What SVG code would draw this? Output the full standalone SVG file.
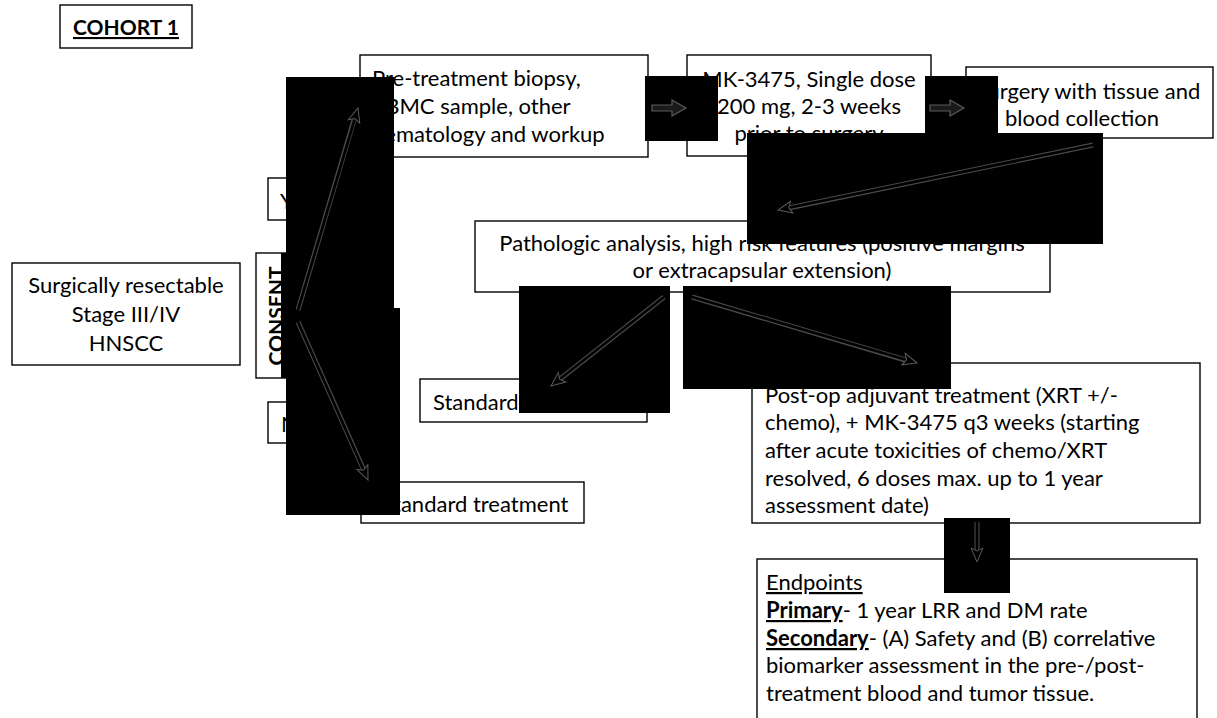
<svg xmlns="http://www.w3.org/2000/svg" width="1217" height="718" viewBox="0 0 1217 718">
<style>
.box{fill:#fff;stroke:#000;stroke-width:1.4}
.t{font-family:Lato,"Open Sans","Liberation Sans",sans-serif;font-size:22px;fill:#000}
.h{font-size:21px}
.m{text-anchor:middle}
.b{font-weight:bold}
.u{text-decoration:underline}
.blk{fill:#000}
.edge{stroke:#4a4a4a;stroke-width:5;fill:none}
.core{stroke:#000;stroke-width:2.8;fill:none}
</style>
<defs>
<marker id="ah" markerUnits="userSpaceOnUse" markerWidth="20" markerHeight="20" refX="15" refY="8" orient="auto">
<path d="M1,2 L15,8 L1,14 L4,8 Z" fill="#000" stroke="#5a5a5a" stroke-width="1"/>
</marker>
</defs>
<rect width="1217" height="718" fill="#fff"/>

<g id="cohort">
<rect class="box" x="60" y="5" width="132" height="43"/>
<text class="t h m b u" x="126" y="35">COHORT 1</text>
</g>
<g id="pretreatment">
<rect class="box" x="360" y="55" width="288" height="102"/>
<text class="t" x="372" y="86">Pre-treatment biopsy,</text>
<text class="t" x="372" y="114">PBMC sample, other</text>
<text class="t" x="372" y="142">hematology and workup</text>
</g>
<g id="mk3475">
<rect class="box" x="687" y="55" width="244" height="101"/>
<text class="t m" x="809" y="87">MK-3475, Single dose</text>
<text class="t m" x="809" y="114">200 mg, 2-3 weeks</text>
<text class="t m" x="809" y="141">prior to surgery</text>
</g>
<g id="surgery">
<rect class="box" x="966" y="67" width="247" height="71"/>
<text class="t m" x="1088" y="99">Surgery with tissue and</text>
<text class="t m" x="1082" y="126">blood collection</text>
</g>
<g id="yes">
<rect class="box" x="268" y="178" width="62" height="42"/>
<text class="t" x="280" y="209">YES</text>
</g>
<g id="consent">
<rect class="box" x="256" y="253" width="44" height="125"/>
<text class="t h m b" transform="translate(284,316) rotate(-90)">CONSENT</text>
</g>
<g id="population">
<rect class="box" x="12" y="263" width="228" height="102"/>
<text class="t m" x="126" y="293">Surgically resectable</text>
<text class="t m" x="126" y="322">Stage III/IV</text>
<text class="t m" x="126" y="351">HNSCC</text>
</g>
<g id="no">
<rect class="box" x="268" y="402" width="62" height="41"/>
<text class="t" x="281" y="432">NO</text>
</g>
<g id="standard-no">
<rect class="box" x="361" y="482" width="223" height="41"/>
<text class="t m" x="475" y="512">Standard treatment</text>
</g>
<g id="pathologic">
<rect class="box" x="475" y="221" width="575" height="71"/>
<text class="t m" x="762" y="251">Pathologic analysis, high risk features (positive margins</text>
<text class="t m" x="762" y="278">or extracapsular extension)</text>
</g>
<g id="standard-low">
<rect class="box" x="420" y="379" width="227" height="43"/>
<text class="t" x="433" y="410">Standard treatment</text>
</g>
<g id="postop">
<rect class="box" x="752" y="363" width="448" height="160"/>
<text class="t" x="765" y="403">Post-op adjuvant treatment (XRT +/-</text>
<text class="t" x="765" y="430">chemo), + MK-3475 q3 weeks (starting</text>
<text class="t" x="765" y="458">after acute toxicities of chemo/XRT</text>
<text class="t" x="765" y="486">resolved, 6 doses max. up to 1 year</text>
<text class="t" x="765" y="513">assessment date)</text>
</g>
<g id="endpoints">
<rect class="box" x="757" y="559" width="440" height="175"/>
<text class="t u" x="766" y="590">Endpoints</text>
<text class="t" x="766" y="618"><tspan class="b u">Primary</tspan>- 1 year LRR and DM rate</text>
<text class="t" x="766" y="646"><tspan class="b u">Secondary</tspan>- (A) Safety and (B) correlative</text>
<text class="t" x="766" y="673">biomarker assessment in the pre-/post-</text>
<text class="t" x="766" y="701">treatment blood and tumor tissue.</text>
</g>

<g id="connectors">
<rect class="blk" x="286" y="77" width="108" height="231"/>
<rect class="blk" x="281" y="253" width="20" height="125"/>
<rect class="blk" x="286" y="308" width="114" height="207"/>
<rect class="blk" x="645" y="76" width="73" height="65"/>
<rect class="blk" x="925" y="76" width="73" height="65"/>
<rect class="blk" x="747" y="133" width="356" height="111"/>
<rect class="blk" x="519" y="286" width="151" height="127"/>
<rect class="blk" x="683" y="286" width="268" height="103"/>
<rect class="blk" x="944" y="518" width="66" height="75"/>

<line class="edge" x1="298" y1="310" x2="356" y2="113"/>
<line class="core" x1="298" y1="310" x2="358" y2="108" marker-end="url(#ah)"/>
<line class="edge" x1="298" y1="322" x2="366" y2="475"/>
<line class="core" x1="298" y1="322" x2="368" y2="480" marker-end="url(#ah)"/>
<line class="edge" x1="1093" y1="145" x2="784" y2="209"/>
<line class="core" x1="1093" y1="145" x2="778" y2="210" marker-end="url(#ah)"/>
<line class="edge" x1="664" y1="297" x2="555" y2="383"/>
<line class="core" x1="664" y1="297" x2="551" y2="386" marker-end="url(#ah)"/>
<line class="edge" x1="692" y1="297" x2="912" y2="362"/>
<line class="core" x1="692" y1="297" x2="917" y2="363" marker-end="url(#ah)"/>
<line class="edge" x1="977" y1="522" x2="977" y2="556"/>
<line class="core" x1="977" y1="522" x2="977" y2="562" marker-end="url(#ah)"/>
<path d="M652,105 L672,105 L672,100 L686,108 L672,116 L672,111 L652,111 Z" fill="#1a1a1a" stroke="#5a5a5a" stroke-width="1.2"/>
<path d="M930,105 L950,105 L950,100 L964,108 L950,116 L950,111 L930,111 Z" fill="#1a1a1a" stroke="#5a5a5a" stroke-width="1.2"/>
</g>
</svg>
